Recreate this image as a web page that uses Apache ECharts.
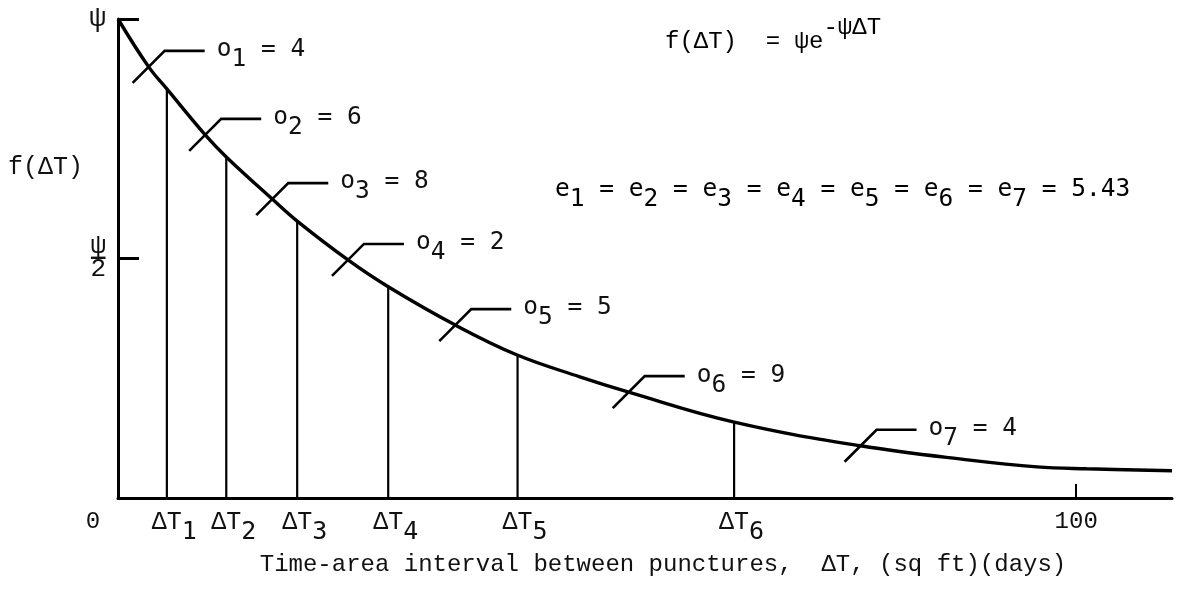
<!DOCTYPE html>
<html>
<head>
<meta charset="utf-8">
<script src="https://cdn.jsdelivr.net/npm/echarts@6/dist/echarts.min.js"></script>
<style>
  html, body { margin: 0; background: #fff; }
  #main { width: 1185px; height: 589px; }
</style>
</head>
<body>
<div id="main"></div>
<script>
// f(dT) curve, y in units of psi
var curveX = [0, 3.2, 5.1, 9.1, 11.3, 16.1, 18.7, 24.0, 28.2, 35.2, 41.6, 48.2, 53.3, 64.2, 77.5, 88.9, 95.9, 101.1, 110];
var curveY = [1.0, 0.90, 0.854, 0.758, 0.712, 0.624, 0.578, 0.497, 0.441, 0.361, 0.299, 0.253, 0.221, 0.159, 0.109, 0.079, 0.065, 0.061, 0.057];

// interval limits dT1..dT6 and the curve height at each
var dtX = [5.1, 11.3, 18.7, 28.2, 41.7, 64.3];
var dtY = [0.854, 0.712, 0.578, 0.441, 0.299, 0.159];

// observed counts o1..o7 and where each tag crosses the curve
var obsCount = [4, 6, 8, 2, 5, 9, 4];
var obsX = [3.2, 9.1, 16.1, 24.0, 35.2, 53.3, 77.5];
var obsY = [0.90, 0.758, 0.624, 0.497, 0.361, 0.221, 0.109];

var expected = "5.43";
var yTickVals = [0.5, 1];
var xTickVals = [100];

var COURIER = "Liberation Mono";
var TYPE = "DejaVu Sans Mono";
var INK = "#111";

// base / subscript pair for typed labels
var subRich = {
  b: { fontFamily: TYPE, fontSize: 24.5, color: INK, padding: [0, 0, 10, 0] },
  s: { fontFamily: TYPE, fontSize: 24.5, color: INK, padding: [10, 0, 0, 0] }
};

var chartDom = document.getElementById("main");
var myChart = echarts.init(chartDom);

var eText = "";
for (var k = 1; k <= 7; k++) {
  eText += "{b|e}{s|" + k + "}{b| = }";
}
eText += "{b|" + expected + "}";

var option = {
  animation: false,
  backgroundColor: "#fff",
  grid: { left: 118, right: 13, top: 19, bottom: 91 },
  xAxis: {
    type: "value",
    min: 0,
    max: 110,
    name: "Time-area interval between punctures,  ΔT, (sq ft)(days)",
    nameLocation: "middle",
    nameGap: 55,
    nameTextStyle: { fontFamily: COURIER, fontSize: 24, color: INK, padding: [0, 0, 0, 36] },
    axisLine: { lineStyle: { color: "#000", width: 3 } },
    axisTick: { show: true, inside: true, length: 14, customValues: xTickVals, lineStyle: { color: "#000", width: 2 } },
    axisLabel: {
      customValues: [0].concat(dtX, [100]),
      margin: 12,
      formatter: function (v) {
        if (v === 0) return "{z|0}";
        if (v === 100) return "{n|100}";
        var i = dtX.indexOf(v);
        return "{d|ΔT}{s|" + (i + 1) + "}";
      },
      rich: {
        z: { fontFamily: COURIER, fontSize: 24, color: INK, padding: [0, 50, 10, 0] },
        n: { fontFamily: COURIER, fontSize: 24, color: INK, padding: [0, 0, 10, 0] },
        d: { fontFamily: COURIER, fontSize: 25, color: INK, padding: [0, 0, 10, 15] },
        s: { fontFamily: TYPE, fontSize: 25, color: INK, padding: [10, 0, 0, 0] }
      }
    },
    splitLine: { show: false }
  },
  yAxis: {
    type: "value",
    min: 0,
    max: 1,
    axisLine: { show: true, lineStyle: { color: "#000", width: 3 } },
    axisTick: { show: true, inside: true, length: 21, customValues: yTickVals, lineStyle: { color: "#000", width: 3 } },
    axisLabel: {
      customValues: yTickVals,
      margin: 12,
      formatter: function (v) {
        if (v === 1) return "{t|ψ}";
        return "{a|ψ}\n{bar|—}\n{c|2}";
      },
      rich: {
        t: { fontFamily: COURIER, fontSize: 28, color: INK, align: "center" },
        a: { fontFamily: COURIER, fontSize: 26, color: INK, lineHeight: 18, align: "center" },
        bar: { fontFamily: COURIER, fontSize: 24, fontWeight: "bold", color: INK, lineHeight: 4, align: "center" },
        c: { fontFamily: COURIER, fontSize: 26, color: INK, lineHeight: 20, align: "center" }
      }
    },
    splitLine: { show: false }
  },
  graphic: [
    {
      type: "text",
      x: 8,
      y: 167,
      style: { text: "f(ΔT)", font: "25px " + COURIER, fill: INK, verticalAlign: "middle", align: "left" }
    },
    {
      type: "text",
      x: 665,
      y: 35,
      style: {
        text: "{m|f(ΔT)  = ψe}{p|-ψΔT}",
        verticalAlign: "middle",
        align: "left",
        rich: {
          m: { fontFamily: COURIER, fontSize: 24, color: INK, padding: [14, 0, 0, 0] },
          p: { fontFamily: COURIER, fontSize: 24, color: INK, padding: [0, 0, 14, 0] }
        }
      }
    },
    {
      type: "text",
      x: 555,
      y: 195,
      style: { text: eText, verticalAlign: "middle", align: "left", rich: subRich }
    }
  ],
  series: [
    {
      name: "f",
      type: "line",
      data: curveX.map(function (x, i) { return [x, curveY[i]]; }),
      smooth: 0.4,
      showSymbol: false,
      lineStyle: { color: "#000", width: 3.4 },
      z: 3
    },
    {
      name: "intervals",
      type: "custom",
      data: dtX.map(function (x, i) { return [x, dtY[i]]; }),
      renderItem: function (params, api) {
        var top = api.coord([api.value(0), api.value(1)]);
        var bot = api.coord([api.value(0), 0]);
        return {
          type: "line",
          shape: { x1: top[0], y1: top[1], x2: bot[0], y2: bot[1] },
          style: { stroke: "#000", lineWidth: 2.2 }
        };
      },
      z: 2
    },
    {
      name: "observed",
      type: "custom",
      data: obsX.map(function (x, i) { return [x, obsY[i]]; }),
      renderItem: function (params, api) {
        var i = params.dataIndex;
        var p = api.coord([api.value(0), api.value(1)]);
        var ex = p[0] + 16, ey = p[1] - 16;
        return {
          type: "group",
          children: [
            {
              type: "polyline",
              shape: { points: [[p[0] - 16, p[1] + 16], [ex, ey], [ex + 40, ey]] },
              style: { stroke: "#000", lineWidth: 2.6, fill: "none" }
            },
            {
              type: "text",
              style: {
                x: ex + 52,
                y: ey + 4,
                text: "{b|o}{s|" + (i + 1) + "}{b| = " + obsCount[i] + "}",
                rich: subRich,
                verticalAlign: "middle",
                align: "left",
                fill: INK
              }
            }
          ]
        };
      },
      z: 4
    }
  ]
};

option && myChart.setOption(option);
</script>
</body>
</html>
